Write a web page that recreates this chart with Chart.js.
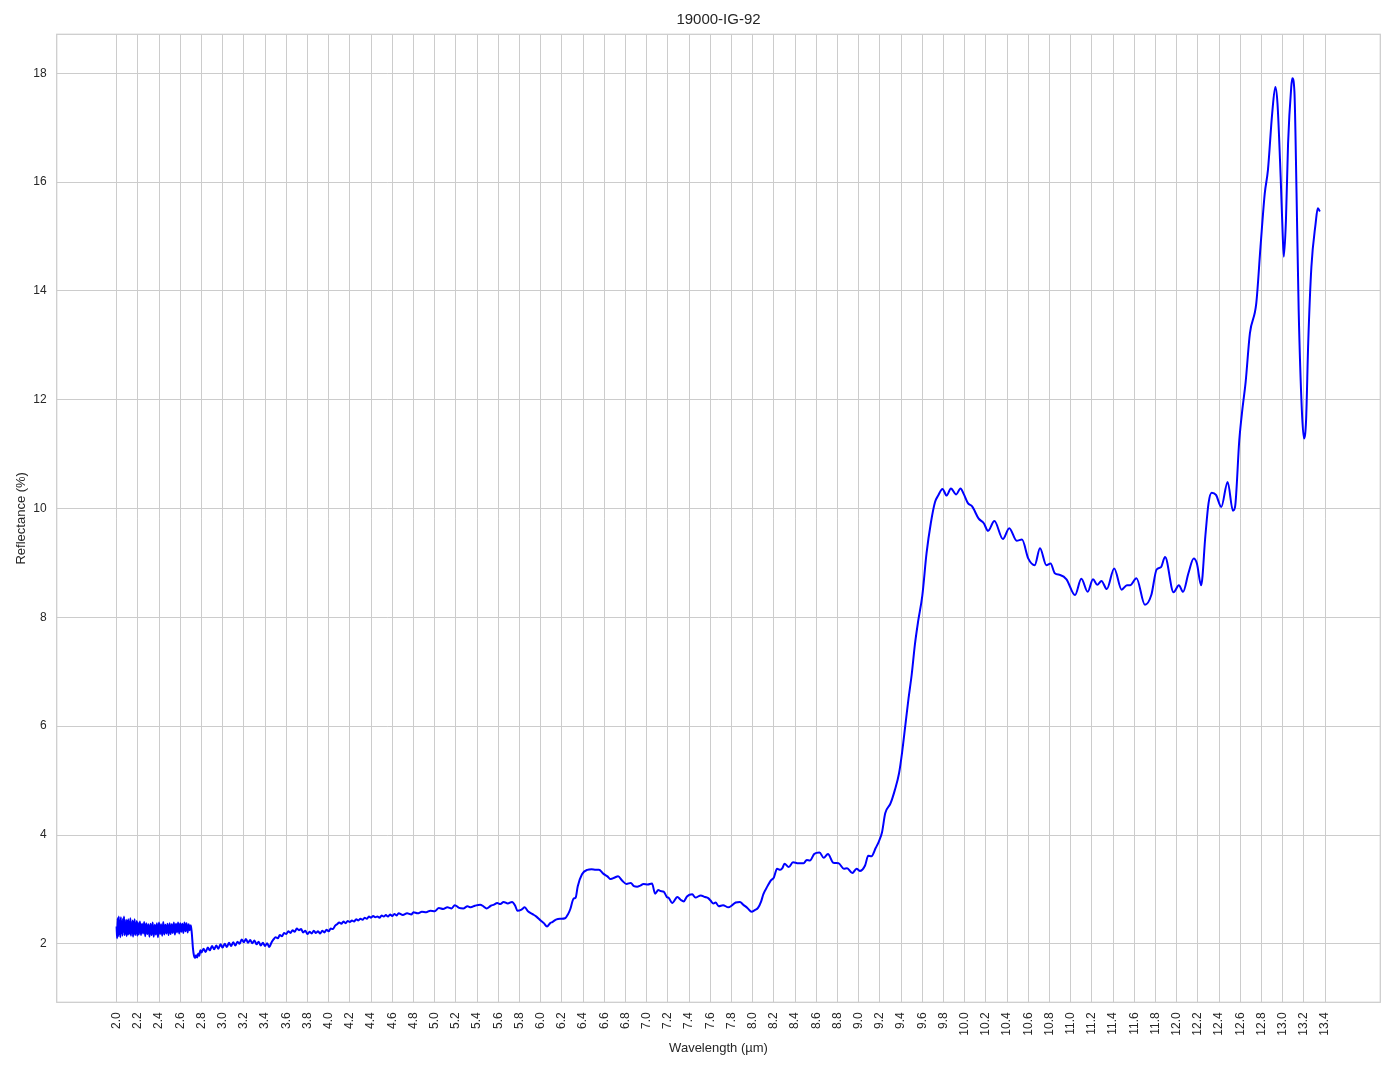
<!DOCTYPE html>
<html>
<head>
<meta charset="utf-8">
<script src="https://cdn.jsdelivr.net/npm/chart.js@4.4.1/dist/chart.umd.min.js"></script>
<style>
html,body{margin:0;padding:0;background:#fff;}
#wrap{width:1394px;height:1069px;}
</style>
</head>
<body>
<div id="wrap"><canvas id="c" width="1394" height="1069"></canvas></div>
<script>
// ---- data ----
const chartTitle = '19000-IG-92';
const xTitle = 'Wavelength (\u00b5m)';
const yTitle = 'Reflectance (%)';

// noisy 2.0-2.7 um section
const wlA = [2.000,2.005,2.010,2.015,2.020,2.025,2.030,2.035,2.040,2.045,2.050,2.055,2.060,2.065,2.070,2.075,2.080,2.085,2.090,2.095,
2.100,2.105,2.110,2.115,2.120,2.125,2.130,2.135,2.140,2.145,2.150,2.155,2.160,2.165,2.170,2.175,2.180,2.185,2.190,2.195,
2.20,2.21,2.22,2.23,2.24,2.25,2.26,2.27,2.28,2.29,2.30,2.31,2.32,2.33,2.34,2.35,2.36,2.37,2.38,2.39,
2.40,2.41,2.42,2.43,2.44,2.45,2.46,2.47,2.48,2.49,2.50,2.51,2.52,2.53,2.54,2.55,2.56,2.57,2.58,2.59,
2.60,2.61,2.62,2.63,2.64,2.65,2.66,2.67,2.68,2.69,2.70];
const rA = [2.32,2.10,2.47,2.14,2.50,2.18,2.43,2.12,2.49,2.20,2.41,2.15,2.46,2.22,2.50,2.16,2.39,2.19,2.44,2.14,
2.42,2.18,2.45,2.17,2.40,2.20,2.47,2.15,2.38,2.21,2.43,2.13,2.41,2.19,2.45,2.16,2.37,2.20,2.42,2.15,
2.39,2.17,2.41,2.16,2.37,2.19,2.40,2.14,2.38,2.18,2.36,2.13,2.37,2.16,2.39,2.13,2.35,2.17,2.38,2.12,
2.39,2.18,2.36,2.15,2.40,2.17,2.35,2.19,2.37,2.16,2.38,2.18,2.36,2.20,2.39,2.17,2.37,2.21,2.39,2.19,
2.38,2.22,2.37,2.20,2.39,2.23,2.38,2.21,2.36,2.25,2.34];

// 2.71-4.66 um
const wlB = [2.71,2.72,2.73,2.74,2.75,2.76,2.77,2.78,2.79,2.80,2.82,2.84,2.86,2.88,2.90,2.92,2.94,2.96,2.98,3.00,
3.02,3.04,3.06,3.08,3.10,3.12,3.14,3.16,3.18,3.20,3.22,3.24,3.26,3.28,3.30,3.32,3.34,3.36,3.38,3.40,
3.42,3.44,3.46,3.48,3.50,3.52,3.54,3.56,3.58,3.60,3.62,3.64,3.66,3.68,3.70,3.72,3.74,3.76,3.78,3.80,
3.82,3.84,3.86,3.88,3.90,3.92,3.94,3.96,3.98,4.00,4.02,4.04,4.06,4.08,4.10,4.12,4.14,4.16,4.18,4.20,
4.22,4.24,4.26,4.28,4.30,4.32,4.34,4.36,4.38,4.40,4.42,4.44,4.46,4.48,4.50,4.52,4.54,4.56,4.58,4.60,
4.62,4.64,4.66];
const rB = [2.18,1.92,1.78,1.74,1.79,1.75,1.82,1.78,1.88,1.84,1.91,1.85,1.93,1.88,1.96,1.90,1.97,1.91,1.99,1.93,
2.00,1.94,2.02,1.96,2.03,1.97,2.04,2.00,2.08,2.03,2.09,2.02,2.07,2.01,2.06,1.99,2.04,1.97,2.02,1.96,
2.01,1.94,2.02,2.08,2.12,2.10,2.16,2.14,2.20,2.18,2.23,2.20,2.25,2.22,2.28,2.25,2.27,2.21,2.24,2.18,
2.22,2.19,2.24,2.20,2.23,2.19,2.24,2.21,2.26,2.23,2.28,2.27,2.33,2.36,2.39,2.37,2.41,2.38,2.42,2.40,
2.43,2.41,2.45,2.43,2.46,2.44,2.48,2.46,2.50,2.48,2.51,2.49,2.50,2.48,2.52,2.50,2.53,2.50,2.54,2.51,
2.55,2.52,2.56];

// 4.70-9.25 um
const wlC = [4.70,4.74,4.78,4.80,4.84,4.88,4.92,4.96,5.00,5.04,5.08,5.12,5.16,5.19,5.23,5.27,5.31,5.34,5.38,5.43,
5.46,5.49,5.53,5.56,5.59,5.62,5.65,5.69,5.73,5.76,5.78,5.82,5.85,5.88,5.92,5.96,6.00,6.03,6.06,6.09,
6.11,6.15,6.19,6.23,6.26,6.28,6.31,6.33,6.35,6.39,6.44,6.48,6.52,6.55,6.59,6.63,6.66,6.70,6.73,6.77,
6.81,6.85,6.88,6.91,6.94,6.97,7.01,7.05,7.08,7.11,7.13,7.16,7.19,7.21,7.24,7.29,7.32,7.35,7.38,7.43,
7.46,7.51,7.55,7.58,7.60,7.63,7.65,7.68,7.72,7.77,7.80,7.84,7.88,7.91,7.95,7.99,8.02,8.05,8.08,8.10,
8.14,8.17,8.20,8.23,8.26,8.28,8.30,8.34,8.38,8.43,8.48,8.51,8.54,8.58,8.63,8.67,8.71,8.76,8.81,8.86,
8.89,8.94,8.98,9.01,9.06,9.09,9.12,9.16,9.19,9.22,9.25];
const rC = [2.53,2.56,2.54,2.58,2.56,2.59,2.58,2.61,2.60,2.66,2.64,2.67,2.65,2.71,2.66,2.65,2.69,2.67,2.70,2.72,
2.69,2.65,2.70,2.72,2.75,2.73,2.77,2.74,2.77,2.70,2.61,2.63,2.67,2.60,2.55,2.50,2.43,2.38,2.32,2.38,
2.40,2.45,2.46,2.47,2.55,2.64,2.83,2.85,3.06,3.28,3.36,3.37,3.36,3.36,3.29,3.24,3.19,3.22,3.24,3.16,
3.10,3.12,3.06,3.05,3.07,3.10,3.09,3.11,2.92,2.99,2.97,2.96,2.86,2.84,2.75,2.86,2.81,2.78,2.87,2.91,
2.85,2.89,2.86,2.84,2.80,2.74,2.76,2.69,2.71,2.67,2.70,2.76,2.77,2.72,2.66,2.59,2.62,2.66,2.78,2.91,
3.06,3.16,3.22,3.38,3.36,3.39,3.47,3.41,3.50,3.48,3.48,3.54,3.53,3.65,3.68,3.58,3.65,3.49,3.48,3.38,
3.39,3.30,3.38,3.34,3.44,3.62,3.61,3.76,3.88,4.05,4.40];

// 9.30-13.35 um
const wlD = [9.30,9.34,9.38,9.41,9.44,9.47,9.50,9.53,9.56,9.60,9.64,9.68,9.72,9.75,9.79,9.83,9.87,9.92,9.96,9.99,
10.03,10.07,10.13,10.18,10.22,10.28,10.36,10.42,10.49,10.54,10.60,10.66,10.71,10.77,10.81,10.85,10.90,10.96,11.04,11.10,
11.16,11.21,11.25,11.29,11.34,11.41,11.48,11.53,11.56,11.62,11.70,11.76,11.81,11.85,11.89,11.97,12.02,12.06,12.11,12.16,
12.19,12.23,12.27,12.30,12.33,12.37,12.42,12.48,12.53,12.55,12.59,12.62,12.65,12.69,12.75,12.79,12.83,12.86,12.90,12.93,
12.95,12.98,13.00,13.01,13.03,13.05,13.08,13.09,13.11,13.13,13.15,13.18,13.20,13.22,13.24,13.27,13.31,13.33,13.35];
const rD = [4.58,4.82,5.13,5.53,6.02,6.51,6.95,7.50,7.92,8.40,9.18,9.73,10.12,10.24,10.36,10.24,10.37,10.26,10.37,10.27,
10.10,10.04,9.82,9.73,9.59,9.77,9.44,9.64,9.41,9.43,9.08,8.96,9.27,8.96,8.99,8.81,8.78,8.70,8.41,8.71,
8.47,8.70,8.60,8.67,8.52,8.90,8.51,8.59,8.59,8.72,8.23,8.41,8.88,8.92,9.11,8.46,8.59,8.47,8.81,9.08,
8.99,8.59,9.50,10.10,10.29,10.25,10.03,10.49,9.96,10.03,11.26,11.84,12.33,13.22,13.77,14.81,15.79,16.22,17.26,17.75,
17.45,16.10,15.00,14.63,15.30,16.71,17.75,17.91,17.66,15.79,13.65,11.81,11.29,11.63,13.04,14.44,15.24,15.52,15.46];

const xTicks = [2.0,2.2,2.4,2.6,2.8,3.0,3.2,3.4,3.6,3.8,4.0,4.2,4.4,4.6,4.8,5.0,5.2,5.4,5.6,5.8,
6.0,6.2,6.4,6.6,6.8,7.0,7.2,7.4,7.6,7.8,8.0,8.2,8.4,8.6,8.8,9.0,9.2,9.4,9.6,9.8,
10.0,10.2,10.4,10.6,10.8,11.0,11.2,11.4,11.6,11.8,12.0,12.2,12.4,12.6,12.8,13.0,13.2,13.4];
const yTicks = [2,4,6,8,10,12,14,16,18];

// ---- build points ----
const wl = [].concat(wlA, wlB, wlC, wlD);
const refl = [].concat(rA, rB, rC, rD);
const points = wl.map((w, i) => ({x: w, y: refl[i]}));

const FONT = '"Liberation Sans", Arial, sans-serif';
const TXT = '#262626';
const GRID = '#cccccc';

const framePlugin = {
  id: 'frame',
  afterDraw(chart) {
    const a = chart.chartArea, ctx = chart.ctx;
    ctx.save();
    ctx.strokeStyle = GRID;
    ctx.lineWidth = 1.25;
    ctx.strokeRect(a.left, a.top, a.right - a.left, a.bottom - a.top);
    ctx.restore();
  }
};

new Chart(document.getElementById('c'), {
  type: 'line',
  data: {
    datasets: [{
      data: points,
      borderColor: '#0000ff',
      borderWidth: 2,
      pointRadius: 0,
      fill: false,
      cubicInterpolationMode: 'monotone'
    }]
  },
  options: {
    responsive: false,
    animation: false,
    devicePixelRatio: 1,
    layout: {padding: {left: 0, right: 13.7, top: 0, bottom: 0}},
    plugins: {
      legend: {display: false},
      tooltip: {enabled: false},
      title: {
        display: true,
        fullSize: false,
        text: chartTitle,
        color: TXT,
        font: {family: FONT, size: 15, weight: 'normal'},
        padding: {top: 11, bottom: 5.3}
      }
    },
    scales: {
      x: {
        type: 'linear',
        min: 1.435,
        max: 13.92,
        afterBuildTicks(scale) { scale.ticks = xTicks.map(v => ({value: v})); },
        afterFit(scale) { scale.height = 66.7; },
        grid: {color: GRID, lineWidth: 1, drawTicks: false},
        border: {display: false},
        ticks: {
          autoSkip: false,
          minRotation: 90,
          maxRotation: 90,
          padding: 10,
          color: TXT,
          font: {family: FONT, size: 12},
          callback: v => Number(v).toFixed(1)
        },
        title: {
          display: true,
          text: xTitle,
          color: TXT,
          font: {family: FONT, size: 13},
          padding: {top: 0, bottom: 13.2}
        }
      },
      y: {
        type: 'linear',
        min: 0.925,
        max: 18.717,
        afterBuildTicks(scale) { scale.ticks = yTicks.map(v => ({value: v})); },
        afterFit(scale) { scale.width = 56.7; },
        grid: {color: GRID, lineWidth: 1, drawTicks: false},
        border: {display: false},
        ticks: {
          padding: 10,
          color: TXT,
          font: {family: FONT, size: 12},
          callback: v => String(v)
        },
        title: {
          display: true,
          text: yTitle,
          color: TXT,
          font: {family: FONT, size: 13},
          padding: {top: 14, bottom: 0}
        }
      }
    }
  },
  plugins: [framePlugin]
});
</script>
</body>
</html>
